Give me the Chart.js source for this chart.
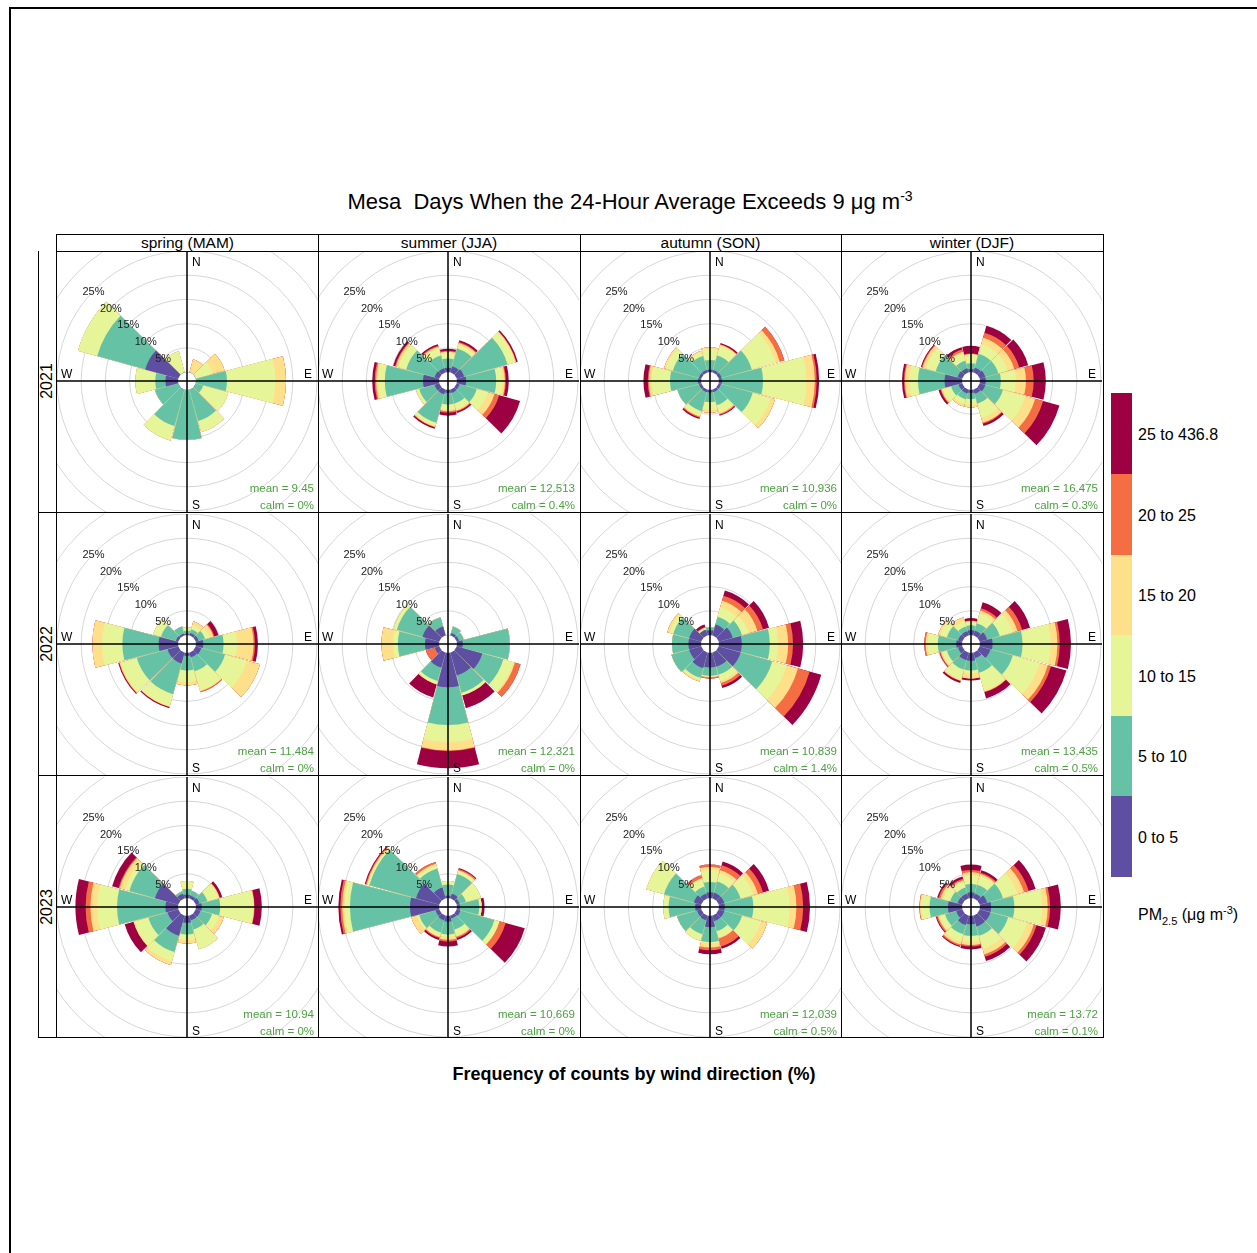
<!DOCTYPE html>
<html>
<head>
<meta charset="utf-8">
<script src="https://cdn.jsdelivr.net/npm/chart.js@4.4.1/dist/chart.umd.min.js"></script>
<style>
body { margin: 0; background: #fff; font-family: "Liberation Sans", Arial, sans-serif; }
#page { position: relative; width: 1257px; height: 1253px; overflow: hidden; background: #fff; }
.abs { position: absolute; }
.line { position: absolute; background: #000; z-index: 5; }
.frame { left: 9px; top: 7px; width: 1300px; height: 1300px; border-left: 2px solid #000; border-top: 2px solid #000; }
.title { top: 188px; left: 0; width: 1260px; text-align: center; font-size: 22px; white-space: pre; }
.strip { font-size: 15.5px; text-align: center; line-height: 17px; }
.year { font-size: 16px; width: 60px; text-align: center; transform: rotate(-90deg); }
.key { font-size: 16px; }
.xlab { top: 1064px; left: 0; width: 1268px; text-align: center; font-size: 18px; font-weight: bold; }
canvas { position: absolute; }
</style>
</head>
<body>
<div id="page">
  <div class="abs frame"></div>
  <div class="abs title">Mesa  Days When the 24-Hour Average Exceeds 9 <span>&mu;</span>g m<sup style="font-size:14px">-3</sup></div>
  <div class="abs xlab">Frequency of counts by wind direction (%)</div>
</div>
<script>
// ---- data ----
const seasons = ['spring (MAM)', 'summer (JJA)', 'autumn (SON)', 'winter (DJF)'];
const years = ['2021', '2022', '2023'];
const directions = [0, 30, 60, 90, 120, 150, 180, 210, 240, 270, 300, 330];
const binLabels = ['0 to 5', '5 to 10', '10 to 15', '15 to 20', '20 to 25', '25 to 436.8'];
const binColors = ['#5E4FA2', '#66C2A5', '#E6F598', '#FEE08B', '#F46D43', '#9E0142'];
const pctTicks = [5, 10, 15, 20, 25];

// frequency (%) per concentration bin (rows) and direction (columns)
const spring2021 = [
  [0, 0, 0, 0, 0, 0, 0, 0, 0, 2.6, 7.1, 0],
  [0, 0, 0, 6.4, 1.6, 6.7, 10.3, 7.8, 5.0, 2.1, 10.3, 0],
  [0, 0, 3.7, 10.0, 5.4, 2.4, 0, 3.1, 0, 4.1, 4.1, 4.5],
  [0, 2.8, 2.5, 2.2, 0, 0, 0, 0, 0, 0, 0, 0],
  [0, 0, 0, 0, 0, 0, 0, 0, 0, 0, 0, 0],
  [0, 0, 0, 0, 0, 0, 0, 0, 0, 0, 0, 0]
];
const summer2021 = [
  [0.9, 1.3, 1.6, 1.9, 0.6, 0.7, 0.6, 1.0, 1.0, 3.3, 1.0, 0.9],
  [1.9, 3.8, 9.3, 6.2, 3.7, 2.3, 2.4, 6.1, 3.3, 7.9, 6.1, 2.7],
  [1.1, 0.8, 1.6, 1.3, 2.4, 1.2, 1.0, 0.7, 0.7, 1.4, 1.7, 1.6],
  [0.3, 0.4, 0.2, 0.5, 1.4, 0.3, 0.4, 0.2, 0, 0.4, 0.5, 0.3],
  [0.2, 0.2, 0.1, 0.2, 1.0, 0.2, 0.3, 0.1, 0, 0.3, 0.2, 0.2],
  [0.4, 0.4, 0.3, 0.6, 4.5, 0.3, 0.6, 0.3, 0, 0.5, 0.4, 0.3]
];
const autumn2021 = [
  [0.5, 0.5, 0.6, 0.6, 0.5, 0.5, 0.5, 0.5, 0.5, 0.6, 0.5, 0.5],
  [2.0, 3.1, 6.5, 8.5, 6.8, 2.8, 2.0, 4.1, 4.6, 5.8, 5.6, 3.0],
  [2.2, 2.1, 5.1, 9.0, 3.9, 1.6, 1.6, 1.0, 0, 3.8, 1.5, 0.8],
  [0.4, 0.2, 0.9, 1.7, 0.9, 0.3, 0.6, 0.2, 0, 0.6, 0.4, 0.3],
  [0, 0.1, 1.0, 0.4, 0, 0.2, 0, 0.2, 0, 0.2, 0, 0],
  [0, 0.3, 0, 0.5, 0, 0.2, 0, 0.3, 0, 0.9, 0, 0]
];
const winter2021 = [
  [0.6, 1.0, 1.2, 1.2, 1.2, 0.9, 0.6, 0.8, 0.8, 3.6, 1.0, 0.9],
  [1.2, 3.0, 2.8, 3.1, 3.8, 2.1, 1.3, 1.3, 1.6, 5.5, 4.7, 1.6],
  [1.8, 2.0, 2.0, 3.1, 4.8, 3.1, 1.2, 1.0, 1.7, 1.8, 2.1, 1.6],
  [0.1, 1.4, 1.4, 2.1, 2.1, 1.0, 0.5, 0.5, 0.4, 0.9, 0.7, 0.3],
  [0.1, 1.1, 1.1, 1.6, 1.7, 0.2, 0, 0, 0.2, 0.2, 0.2, 0.5],
  [1.6, 1.5, 1.9, 2.5, 3.5, 0.5, 0, 0, 0.4, 0.4, 0.2, 0.5]
];
const spring2022 = [
  [0.3, 0.5, 0.6, 1.5, 1.2, 1.0, 0.6, 2.3, 2.3, 4.0, 0.5, 0.4],
  [0.6, 0.8, 1.4, 4.2, 5.1, 3.0, 3.0, 6.6, 6.6, 7.5, 3.2, 1.5],
  [0.7, 0.9, 1.0, 2.8, 4.7, 4.1, 2.4, 2.6, 3.5, 4.2, 1.7, 0],
  [0, 0.8, 0.8, 3.4, 2.8, 0.2, 0.7, 0.1, 0.2, 2.0, 0, 0],
  [0, 0, 0.2, 0.3, 0, 0.2, 0, 0.1, 0.1, 0, 0, 0],
  [0, 0, 0.9, 0.6, 0, 0, 0, 0.2, 0.2, 0, 0, 0]
];
const summer2022 = [
  [0, 0.5, 0.5, 1.2, 5.5, 4.9, 7.1, 3.2, 1.0, 2.9, 3.6, 1.9],
  [0, 1.4, 1.0, 9.7, 4.5, 3.7, 7.8, 2.9, 0, 5.6, 5.5, 2.0],
  [0, 0, 0, 0, 2.2, 0.5, 3.5, 0.6, 0, 1.0, 0.7, 0],
  [0, 0, 0, 0, 0.3, 0.1, 1.7, 0.1, 0, 2.4, 0, 0],
  [0, 0, 0, 0, 1.2, 0, 0.2, 0, 1.9, 0, 0, 0],
  [0, 0, 0, 0, 0, 2.7, 3.5, 2.8, 0, 0, 0, 0]
];
const autumn2022 = [
  [1.0, 2.3, 3.0, 4.7, 4.7, 3.0, 3.0, 3.3, 2.6, 2.6, 2.6, 1.2],
  [0.6, 1.7, 2.0, 5.8, 6.8, 1.7, 1.7, 2.1, 3.8, 3.4, 3.4, 0],
  [0, 2.0, 1.4, 1.7, 3.1, 1.3, 0.2, 0.4, 0, 0, 0.8, 0.4],
  [0, 1.4, 1.9, 2.1, 2.4, 0.5, 0.1, 0.4, 0, 0, 0.5, 0],
  [0, 1.1, 1.2, 1.0, 2.5, 0.6, 0.3, 0, 0, 0, 0, 0.2],
  [0, 1.1, 1.3, 2.1, 2.5, 0.5, 0, 0, 0, 0, 0, 0.5]
];
const winter2022 = [
  [1.0, 1.0, 1.6, 2.6, 2.3, 1.2, 1.6, 1.6, 0.9, 1.2, 0.9, 0.9],
  [1.0, 1.6, 2.7, 6.2, 4.8, 3.1, 2.0, 2.0, 2.4, 3.8, 2.4, 1.0],
  [0.7, 2.1, 2.8, 5.8, 5.8, 3.8, 0.6, 2.1, 1.0, 2.1, 1.4, 1.1],
  [0.2, 0.6, 1.0, 1.4, 1.7, 0.3, 1.1, 0.3, 0.3, 0.4, 0.5, 0.9],
  [0.1, 0.5, 1.0, 0.5, 0.7, 0.1, 0, 0.1, 0.2, 0.3, 0, 0],
  [0.5, 1.3, 1.7, 2.3, 3.3, 1.3, 0.4, 0.4, 0.1, 0, 0, 0]
];
const spring2023 = [
  [0.7, 0.6, 0.8, 1.2, 1.0, 1.0, 1.4, 4.3, 2.3, 2.6, 5.0, 1.0],
  [1.2, 1.0, 1.7, 3.8, 2.5, 2.0, 2.4, 3.5, 4.1, 10.0, 5.5, 0.5],
  [1.6, 0, 2.4, 6.9, 1.5, 4.2, 1.2, 2.0, 3.1, 4.1, 1.0, 0],
  [0, 0, 0.2, 0.1, 1.0, 0, 0.7, 0.8, 0.1, 1.4, 1.1, 0],
  [0, 0, 0.1, 0.1, 0, 0, 0, 0, 0, 1.0, 0.2, 0],
  [0, 0, 0.5, 1.5, 0, 0, 0, 0, 1.9, 2.1, 1.4, 0]
];
const summer2023 = [
  [0.5, 1.0, 0.6, 0.6, 0.8, 0.6, 1.2, 1.0, 0.8, 6.0, 5.0, 2.3],
  [2.3, 4.2, 1.4, 4.0, 7.3, 2.4, 2.6, 2.6, 3.5, 12.4, 10.0, 4.1],
  [0.7, 0.6, 3.2, 0.5, 1.0, 1.2, 0.5, 0.8, 0.4, 1.1, 0.4, 0.7],
  [0, 0.2, 0, 0, 0.1, 0.3, 0.6, 0.2, 1.3, 0.5, 0.2, 0.3],
  [0, 0.3, 0, 0, 1.3, 0.3, 0.4, 0.2, 0, 0.4, 0.2, 0.4],
  [0, 0.2, 0, 0.6, 4.1, 0.4, 1.0, 0.4, 0, 0.4, 0.2, 0]
];
const autumn2023 = [
  [1.2, 1.2, 1.2, 1.2, 1.2, 1.2, 2.3, 1.0, 0.9, 1.2, 1.6, 1.0],
  [2.1, 2.4, 3.5, 5.9, 3.8, 2.1, 3.1, 3.0, 4.3, 5.5, 6.4, 1.5],
  [2.4, 1.7, 2.7, 7.5, 4.1, 1.4, 0.3, 1.4, 0, 1.1, 3.8, 1.6],
  [0.7, 0.7, 1.0, 1.4, 1.3, 0.2, 0.8, 0, 0, 0, 0, 0.2],
  [0.5, 1.1, 1.1, 1.4, 0, 1.7, 0.6, 0, 0, 0, 0, 0.6],
  [0, 0.8, 1.3, 1.4, 0, 0.5, 0.8, 0, 0, 0, 0, 0]
];
const winter2023 = [
  [1.2, 1.0, 1.6, 2.3, 2.3, 2.3, 1.7, 2.0, 1.3, 2.9, 1.0, 1.0],
  [1.7, 1.9, 3.4, 4.8, 3.8, 2.0, 2.4, 2.0, 2.4, 3.8, 1.6, 1.3],
  [1.7, 1.9, 3.1, 5.8, 4.1, 2.8, 1.2, 1.6, 1.2, 1.8, 1.5, 1.2],
  [0.7, 0.4, 1.4, 1.1, 1.4, 1.2, 0.7, 0.6, 0.3, 0.2, 0.6, 0.4],
  [0.5, 0.3, 1.0, 0.5, 0.6, 0.5, 0.3, 0.3, 0.3, 0.1, 0.4, 0.3],
  [1.1, 0.5, 1.5, 2.2, 2.0, 0.9, 0.6, 0.2, 0.2, 0, 0.3, 0.5]
];

const panels = [
  [spring2021, summer2021, autumn2021, winter2021],
  [spring2022, summer2022, autumn2022, winter2022],
  [spring2023, summer2023, autumn2023, winter2023]
];
const meanVals = [
  [9.45, 12.513, 10.936, 16.475],
  [11.484, 12.321, 10.839, 13.435],
  [10.94, 10.669, 12.039, 13.72]
];
const calmVals = [
  [0, 0.4, 0, 0.3],
  [0, 0, 1.4, 0.5],
  [0, 0, 0.5, 0.1]
];

// ---- layout ----
const page = document.getElementById('page');
const colX = [57, 318, 580, 841];
const rowY = [251, 514, 777];
const SIZE = 261;
const GAP = 1.0;          // degrees of white between wedges
const R_MIN = -1.86;      // pushes 0% away from the centre (calm circle)
const R_MAX = 25;

function addLine(x, y, w, h) {
  const d = document.createElement('div');
  d.className = 'line';
  Object.assign(d.style, {left: x + 'px', top: y + 'px', width: w + 'px', height: h + 'px'});
  page.appendChild(d);
}
function addText(cls, html, style) {
  const d = document.createElement('div');
  d.className = 'abs ' + cls;
  d.innerHTML = html;
  Object.assign(d.style, style);
  page.appendChild(d);
  return d;
}

// panel frame
[234, 251].forEach(y => addLine(56, y, 1048, 1));
[512, 775, 1037].forEach(y => addLine(38, y, 1066, 1));
addLine(38, 251, 1, 787);
[56, 318, 580, 841, 1103].forEach(x => addLine(x, 234, 1, 804));

seasons.forEach((s, i) => {
  const left = i === 0 ? 57 : colX[i];
  const right = i === 3 ? 1103 : colX[i + 1];
  addText('strip', s, {left: left + 'px', top: '234px', width: (right - left) + 'px'});
});
years.forEach((y, j) => {
  addText('year', y, {left: (47 - 30) + 'px', top: (rowY[j] + 130 - 9) + 'px'});
});

// colour key
binColors.forEach((c, k) => {
  const top = 876 - (k + 1) * 80.5;
  const d = document.createElement('div');
  d.className = 'abs';
  Object.assign(d.style, {left: '1111px', top: top + 'px', width: '21px', height: '81px', background: c});
  page.appendChild(d);
  addText('key', binLabels[k], {left: '1138px', top: (top + 33) + 'px'});
});
addText('key', 'PM<sub style="font-size:11px">2.5</sub> (&mu;g m<sup style="font-size:11px">-3</sup>)',
  {left: '1138px', top: '904px'});

// ---- decorations drawn on every rose ----
const roseDecor = {
  id: 'roseDecor',
  afterDatasetsDraw(chart, args, opts) {
    const r = chart.scales.r;
    const ctx = chart.ctx;
    const cx = r.xCenter, cy = r.yCenter;
    const w = chart.width, h = chart.height;
    ctx.save();
    // calm circle
    ctx.fillStyle = '#fff';
    ctx.beginPath();
    ctx.arc(cx, cy, r.getDistanceFromCenterForValue(0), 0, Math.PI * 2);
    ctx.fill();
    // axes
    ctx.strokeStyle = '#000';
    ctx.lineWidth = 1.5;
    ctx.beginPath();
    ctx.moveTo(0, cy); ctx.lineTo(w, cy);
    ctx.moveTo(cx, 0); ctx.lineTo(cx, h);
    ctx.stroke();
    // compass letters
    ctx.fillStyle = '#000';
    ctx.font = '12px "Liberation Sans", Arial, sans-serif';
    ctx.textBaseline = 'middle';
    ctx.textAlign = 'left';
    ctx.fillText('N', cx + 5, 12);
    ctx.fillText('S', cx + 5, h - 6);
    ctx.fillText('W', 4, cy - 6);
    ctx.textAlign = 'right';
    ctx.fillText('E', w - 6, cy - 6);
    // percent labels on the NW diagonal
    ctx.font = '11px "Liberation Sans", Arial, sans-serif';
    ctx.fillStyle = '#222';
    ctx.textAlign = 'center';
    const a = 314 * Math.PI / 180;
    pctTicks.forEach(v => {
      const d = r.getDistanceFromCenterForValue(v);
      ctx.fillText(v + '%', cx + d * Math.sin(a), cy - d * Math.cos(a) + 1);
    });
    // mean / calm
    ctx.font = '11.5px "Liberation Sans", Arial, sans-serif';
    ctx.fillStyle = '#4ea043';
    ctx.textAlign = 'right';
    ctx.fillText('mean = ' + opts.mean, w - 4, h - 23);
    ctx.fillText('calm = ' + opts.calm + '%', w - 4, h - 6);
    ctx.restore();
  }
};

const wedgeLabels = [];
directions.forEach(d => { wedgeLabels.push(String(d)); wedgeLabels.push(''); });

function roseDatasets(bins) {
  const cum = new Array(directions.length).fill(0);
  return bins.map((row, k) => {
    const data = [];
    row.forEach((v, i) => {
      cum[i] += v;
      data.push(cum[i]);
      data.push(0);
    });
    return {label: binLabels[k], data: data, backgroundColor: binColors[k]};
  });
}

panels.forEach((rowPanels, j) => {
  rowPanels.forEach((bins, i) => {
    const canvas = document.createElement('canvas');
    canvas.width = SIZE;
    canvas.height = SIZE;
    canvas.style.left = colX[i] + 'px';
    canvas.style.top = rowY[j] + 'px';
    page.appendChild(canvas);
    new Chart(canvas, {
      type: 'polarArea',
      data: {labels: wedgeLabels, datasets: roseDatasets(bins)},
      options: {
        responsive: false,
        animation: false,
        layout: {padding: 0},
        elements: {arc: {borderWidth: 0}},
        datasets: {polarArea: {angle: c => (c.dataIndex % 2 ? GAP : 30 - GAP)}},
        plugins: {
          legend: {display: false},
          tooltip: {enabled: false},
          roseDecor: {mean: meanVals[j][i], calm: calmVals[j][i]}
        },
        scales: {
          r: {
            min: R_MIN,
            max: R_MAX,
            startAngle: -(30 - GAP) / 2,
            ticks: {display: false},
            grid: {color: '#d6d6d6', lineWidth: 1, circular: true},
            angleLines: {display: false},
            pointLabels: {display: false},
            afterBuildTicks: s => { s.ticks = [0, 5, 10, 15, 20, 25, 30].map(v => ({value: v})); }
          }
        }
      },
      plugins: [roseDecor]
    });
  });
});
</script>
</body>
</html>
